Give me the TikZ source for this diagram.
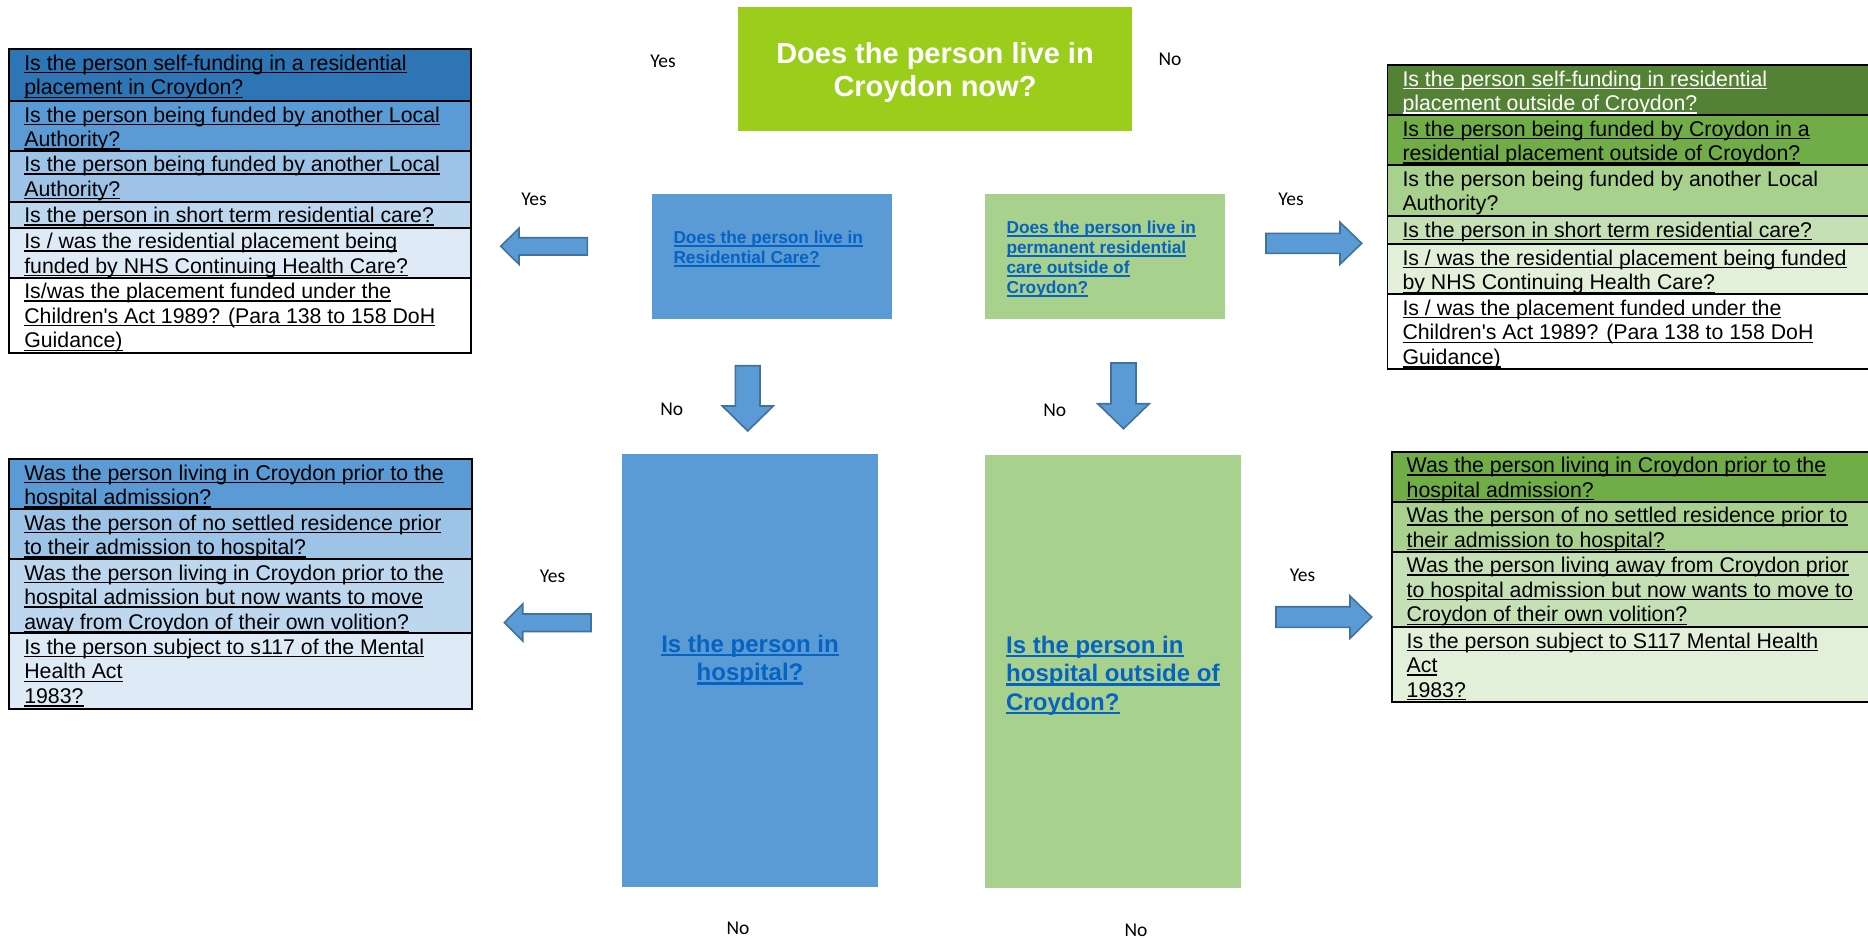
\documentclass[tikz,border=0pt]{standalone}
\usepackage{fontspec}
\setmainfont{Liberation Sans}[Ligatures=TeXOff]
\newfontfamily\califont{Carlito}
\usetikzlibrary{calc}
\definecolor{topgreen}{RGB}{154,206,26}
\definecolor{boxblue}{RGB}{91,155,213}
\definecolor{boxgreen}{RGB}{169,209,142}
\definecolor{linkblue}{RGB}{5,99,193}
\definecolor{arrowedge}{RGB}{65,113,156}
\definecolor{bA}{RGB}{46,117,182}
\definecolor{bB}{RGB}{91,155,213}
\definecolor{bC}{RGB}{157,195,230}
\definecolor{bD}{RGB}{189,215,238}
\definecolor{bE}{RGB}{222,235,247}
\definecolor{gA}{RGB}{84,130,53}
\definecolor{gB}{RGB}{112,173,71}
\definecolor{gC}{RGB}{169,209,142}
\definecolor{gD}{RGB}{197,224,180}
\definecolor{gE}{RGB}{226,240,217}
\newlength\ulgap \newlength\ulth
\setlength\ulgap{3pt}\setlength\ulth{1.3pt}
\newcommand\myul[1]{\setbox0\hbox{#1}\rlap{\rule[-\ulgap]{\wd0}{\ulth}}\box0}
\tikzset{
  cellbox/.style={draw=black, line width=1.7pt, inner sep=0pt, outer sep=0pt, anchor=north west},
  celltext/.style={inner sep=0pt, outer sep=0pt, anchor=north west, align=left,
    font=\fontsize{21.3}{24.6}\selectfont},
  qbox/.style={inner sep=0pt, outer sep=0pt, anchor=north west},
  smalltext/.style={inner sep=0pt, anchor=north west, align=left, text=linkblue,
    font=\bfseries\fontsize{17.3}{20}\selectfont\setlength\ulgap{3.4pt}\setlength\ulth{2pt}},
  bigtext/.style={inner sep=0pt, text=linkblue,
    font=\bfseries\fontsize{24}{28.5}\selectfont\setlength\ulgap{4pt}\setlength\ulth{2.4pt}},
  yn/.style={inner sep=0pt, anchor=base, font=\califont\fontsize{19.5}{22}\selectfont},
  barrow/.style={fill=boxblue, draw=arrowedge, line width=1.6pt, line join=miter}
}
\newcommand\cell[8]{%
  \node[cellbox, fill=#6, minimum width=#4-#2, minimum height=#5-#3] (#1) at (#2,#3) {};
  \node[celltext, text=#7] (#1t) at (#2+15,#3+3.8) {\strut#8};
}
\begin{document}
\begin{tikzpicture}[x=1pt,y=-1pt]
\clip (0,0) rectangle (1868,940);
\fill[white] (0,0) rectangle (1868,940);

% ---------- central question boxes ----------
\node[qbox, fill=topgreen, minimum width=393.7, minimum height=123.4] (q0) at (738.3,7.3) {};
\node[inner sep=0pt, anchor=north, align=center, text=white,
  font=\bfseries\fontsize{29}{33}\selectfont] (q0t) at (935,40.2)
  {\strut Does the person live in\\Croydon now?};

\node[qbox, fill=boxblue, minimum width=240, minimum height=124.7] (q1) at (652,194) {};
\node[smalltext] (q1t) at (673.3,229.3)
  {\strut\myul{Does the person live in}\\\myul{Residential Care?}};

\node[qbox, fill=boxgreen, minimum width=240, minimum height=124.7] (q2) at (985,194) {};
\node[smalltext] (q2t) at (1006.3,219.3)
  {\strut\myul{Does the person live in}\\\myul{permanent residential}\\\myul{care outside of}\\\myul{Croydon?}};

\node[qbox, fill=boxblue, minimum width=256, minimum height=432.5] (q3) at (622,454) {};
\node[bigtext, anchor=north, align=center] (q3t) at (750,632)
  {\strut\myul{Is the person in}\\\myul{hospital?}};

\node[qbox, fill=boxgreen, minimum width=256, minimum height=432.5] (q4) at (985,455) {};
\node[bigtext, anchor=north west, align=left] (q4t) at (1006,633)
  {\strut\myul{Is the person in}\\\myul{hospital outside of}\\\myul{Croydon?}};

% ---------- left top table ----------
\cell{lt1}{9.3}{49.3}{471}{101}{bA}{black}{\myul{Is the person self-funding in a residential}\\\myul{placement in Croydon?}}
\cell{lt2}{9.3}{101}{471}{150.7}{bB}{black}{\myul{Is the person being funded by another Local}\\\myul{Authority?}}
\cell{lt3}{9.3}{150.7}{471}{201.7}{bC}{black}{\myul{Is the person being funded by another Local}\\\myul{Authority?}}
\cell{lt4}{9.3}{201.7}{471}{227.7}{bD}{black}{\myul{Is the person in short term residential care?}}
\cell{lt5}{9.3}{227.7}{471}{277.7}{bE}{black}{\myul{Is / was the residential placement being}\\\myul{funded by NHS Continuing Health Care?}}
\cell{lt6}{9.3}{277.7}{471}{353}{white}{black}{\myul{Is/was the placement funded under the}\\\myul{Children's Act 1989? (Para 138 to 158 DoH}\\\myul{Guidance)}}

% ---------- left bottom table ----------
\cell{lb1}{9.3}{459}{472.3}{509}{bB}{black}{\myul{Was the person living in Croydon prior to the}\\\myul{hospital admission?}}
\cell{lb2}{9.3}{509}{472.3}{559}{bC}{black}{\myul{Was the person of no settled residence prior}\\\myul{to their admission to hospital?}}
\cell{lb3}{9.3}{559}{472.3}{633.3}{bD}{black}{\myul{Was the person living in Croydon prior to the}\\\myul{hospital admission but now wants to move}\\\myul{away from Croydon of their own volition?}}
\cell{lb4}{9.3}{633.3}{472.3}{709.3}{bE}{black}{\myul{Is the person subject to s117 of the Mental}\\\myul{Health Act}\\\myul{1983?}}

% ---------- right top table ----------
\cell{rt1}{1387.5}{65}{1885}{115}{gA}{white}{\myul{Is the person self-funding in residential}\\\myul{placement outside of Croydon?}}
\cell{rt2}{1387.5}{115}{1885}{165}{gB}{black}{\myul{Is the person being funded by Croydon in a}\\\myul{residential placement outside of Croydon?}}
\cell{rt3}{1387.5}{165}{1885}{216}{gC}{black}{Is the person being funded by another Local\\Authority?}
\cell{rt4}{1387.5}{216}{1885}{244.3}{gD}{black}{\myul{Is the person in short term residential care?}}
\cell{rt5}{1387.5}{244.3}{1885}{294.3}{gE}{black}{\myul{Is / was the residential placement being funded}\\\myul{by NHS Continuing Health Care?}}
\cell{rt6}{1387.5}{294.3}{1885}{369.3}{white}{black}{\myul{Is / was the placement funded under the}\\\myul{Children's Act 1989? (Para 138 to 158 DoH}\\\myul{Guidance)}}

% ---------- right bottom table ----------
\cell{rb1}{1391.7}{451.7}{1885}{501.7}{gB}{black}{\myul{Was the person living in Croydon prior to the}\\\myul{hospital admission?}}
\cell{rb2}{1391.7}{501.7}{1885}{551.7}{gC}{black}{\myul{Was the person of no settled residence prior to}\\\myul{their admission to hospital?}}
\cell{rb3}{1391.7}{551.7}{1885}{627}{gD}{black}{\myul{Was the person living away from Croydon prior}\\\myul{to hospital admission but now wants to move to}\\\myul{Croydon of their own volition?}}
\cell{rb4}{1391.7}{627}{1885}{702.3}{gE}{black}{\myul{Is the person subject to S117 Mental Health}\\\myul{Act}\\\myul{1983?}}

% ---------- block arrows ----------
\draw[barrow] (587.3,237.7) -- (519,237.7) -- (519,228.3) -- (500.7,246.3) -- (519,264.3) -- (519,255) -- (587.3,255) -- cycle;
\draw[barrow] (591,614) -- (522.7,614) -- (522.7,604) -- (504.3,622.6) -- (522.7,641) -- (522.7,631.5) -- (591,631.5) -- cycle;
\draw[barrow] (1266,233.3) -- (1340,233.3) -- (1340,222.3) -- (1361.7,243.3) -- (1340,264.3) -- (1340,253.3) -- (1266,253.3) -- cycle;
\draw[barrow] (1276,606.7) -- (1350,606.7) -- (1350,596) -- (1371.7,617) -- (1350,638.3) -- (1350,627.3) -- (1276,627.3) -- cycle;
\draw[barrow] (735.3,365.7) -- (760,365.7) -- (760,406) -- (773.3,406) -- (747.7,431) -- (722.3,406) -- (735.3,406) -- cycle;
\draw[barrow] (1111,363) -- (1136,363) -- (1136,403.7) -- (1149.3,403.7) -- (1123.5,428.7) -- (1097.7,403.7) -- (1111,403.7) -- cycle;

% ---------- Yes / No labels ----------
\node[yn] (y0) at (663,67.3) {Yes};
\node[yn] (n0) at (1170,65.6) {No};
\node[yn] (y1) at (534,205) {Yes};
\node[yn] (y2) at (1291,205) {Yes};
\node[yn] (n1) at (671.7,415) {No};
\node[yn] (n2) at (1054.7,416.7) {No};
\node[yn] (y3) at (552.5,582.7) {Yes};
\node[yn] (y4) at (1302.5,581.7) {Yes};
\node[yn] (n3) at (738,934) {No};
\node[yn] (n4) at (1136,936) {No};
\end{tikzpicture}
\end{document}
